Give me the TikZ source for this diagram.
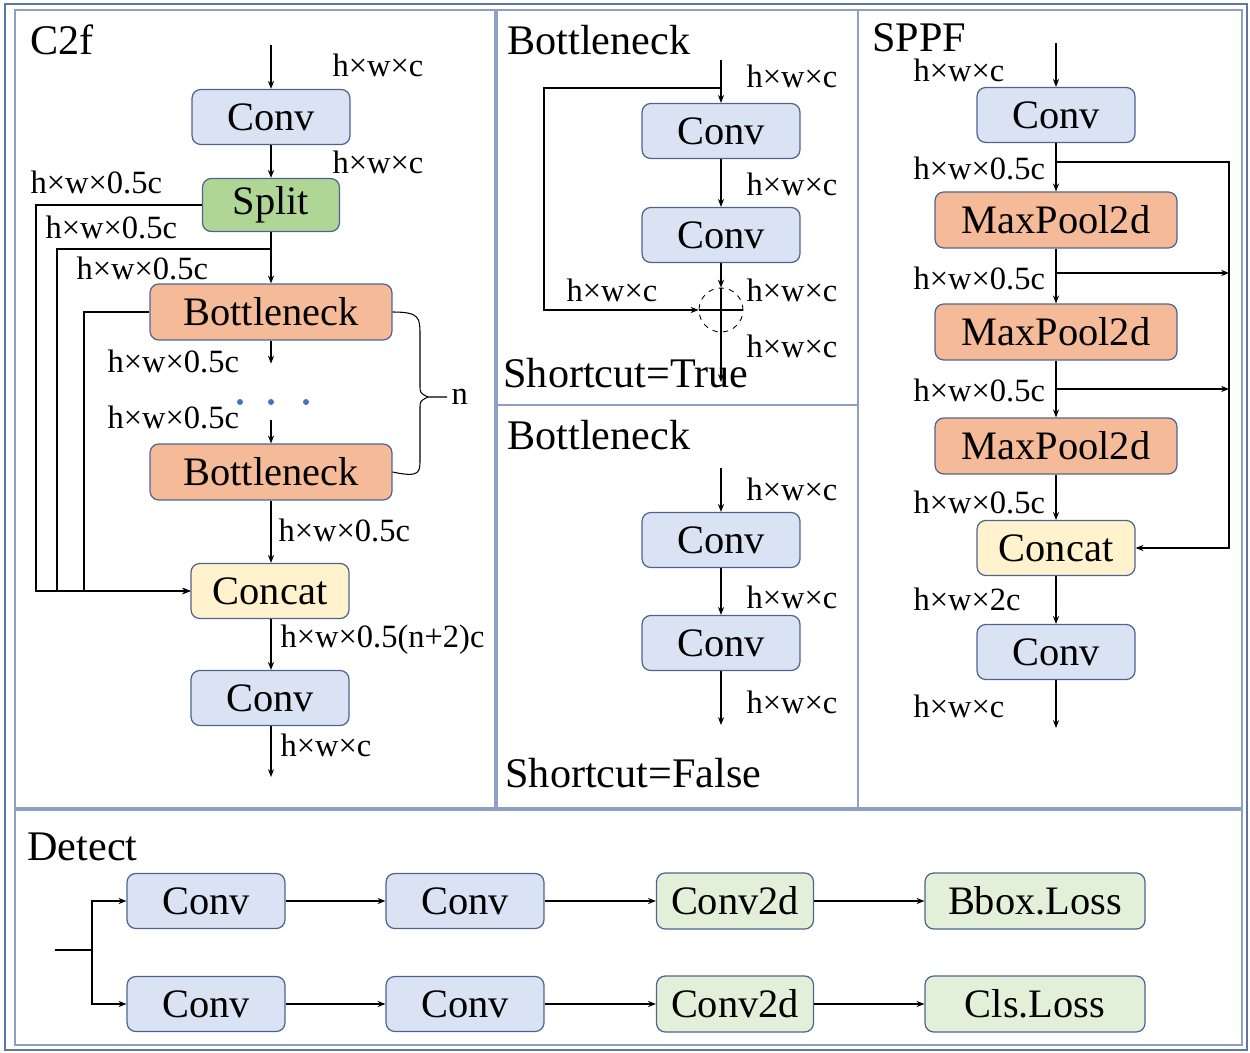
\documentclass[tikz,border=0pt]{standalone}
\usepackage{fontspec}
\setmainfont{Liberation Serif}
\usetikzlibrary{arrows.meta}

\definecolor{convblue}{RGB}{218,227,243}
\definecolor{splitgreen}{RGB}{176,214,150}
\definecolor{bneckorange}{RGB}{245,186,152}
\definecolor{catyellow}{RGB}{255,242,204}
\definecolor{headgreen}{RGB}{226,240,217}
\definecolor{boxedge}{RGB}{78,100,142}
\definecolor{framecol}{RGB}{92,118,168}
\definecolor{dotblue}{RGB}{68,114,196}

\begin{document}
\begin{tikzpicture}[x=0.02cm, y=-0.02cm, line width=0.6pt,
	>={Stealth[length=4.5pt,width=3.5pt]},
	box/.style = {draw=boxedge, line width=0.7pt, rounded corners=5pt, inner sep=0pt,
		font=\fontsize{23}{27}\selectfont},
	convbox/.style = {box, fill=convblue, minimum width=3.16cm, minimum height=1.1cm},
	splitbox/.style = {box, fill=splitgreen, minimum width=2.74cm, minimum height=1.06cm},
	bneckbox/.style = {box, fill=bneckorange, minimum width=4.84cm, minimum height=1.12cm},
	catbox/.style = {box, fill=catyellow, minimum width=3.16cm, minimum height=1.1cm},
	headbox/.style = {box, fill=headgreen, minimum width=3.14cm, minimum height=1.12cm},
	dim/.style = {anchor=west, inner sep=0pt, font=\fontsize{18.5}{22}\selectfont},
	title/.style = {anchor=west, inner sep=0pt, font=\fontsize{24}{28}\selectfont}]
	\useasboundingbox (0,0) rectangle (1250,1053);

	% frames
	\draw[framecol, line width=1pt] (5,4) rectangle (1247,1050);
	\draw[framecol!70] (15,10) rectangle (495,808);
	\draw[framecol!70] (497,10) rectangle (858,405);
	\draw[framecol!70] (497,405) rectangle (858,808);
	\draw[framecol!70] (858,10) rectangle (1242,808);
	\draw[framecol!70] (15,810) rectangle (1242,1045);

	% C2f
	\node[title] (c2ftitle) at (30,40) {C2f};
	\coordinate (c2fin) at (271,45);
	\node[convbox] (c2fconv1) at (271,117) {Conv};
	\node[splitbox] (split) at (271,205) {Split};
	\coordinate (sj) at (271,249);
	\node[bneckbox] (bneck1) at (271,312) {Bottleneck};
	\coordinate (dotsin) at (271,420);
	\node[bneckbox] (bneck2) at (271,472) {Bottleneck};
	\node[catbox] (c2fcat) at (270,591) {Concat};
	\node[convbox] (c2fconv2) at (270,698) {Conv};
	\coordinate (c2fout) at (271,777);

	\draw[->] (c2fin) -- (c2fconv1.north);
	\draw[->] (c2fconv1.south) -- (split.north);
	\draw (split.south) -- (sj);
	\draw[->] (sj) -- (bneck1.north);
	\draw[->] (split.west) -- (36,205) |- (c2fcat.west);
	\draw[->] (sj) -- (57,249) |- (c2fcat.west);
	\draw[->] (bneck1.west) -- (84,312) |- (c2fcat.west);
	\draw[->] (bneck1.south) -- ++(0,23);
	\draw[->] (dotsin) -- (bneck2.north);
	\draw[->] (bneck2.south) -- (c2fcat.north -| bneck2.south);
	\draw[->] (c2fcat.south -| c2fin) -- (c2fconv2.north -| c2fin);
	\draw[->] (c2fconv2.south -| c2fin) -- (c2fout);
	\fill[dotblue] (240,402) circle (1.7pt) (271,402) circle (1.7pt) (306,402) circle (1.7pt);
	\draw (bneck1.east) .. controls (420,312) and (420,318) .. (420,335) -- (420,385)
		.. controls (420,393) .. (428,397);
	\draw (bneck2.east) .. controls (420,478) and (420,472) .. (420,460) -- (420,409)
		.. controls (420,401) .. (428,397) -- (447,397);
	\node[dim] (nlab) at (451,397) {n};

	\node[dim] at (332,65) {h×w×c};
	\node[dim] at (332,162) {h×w×c};
	\node[dim] at (30,182) {h×w×0.5c};
	\node[dim] at (45,227) {h×w×0.5c};
	\node[dim] at (76,268) {h×w×0.5c};
	\node[dim] at (107,361) {h×w×0.5c};
	\node[dim] at (107,417) {h×w×0.5c};
	\node[dim] at (278,530) {h×w×0.5c};
	\node[dim] at (280,640) {h×w×0.5(n+2)c};
	\node[dim] at (280,745) {h×w×c};

	% Bottleneck, Shortcut=True
	\node[title] (btitle1) at (507,40) {Bottleneck};
	\coordinate (bin) at (721,60);
	\coordinate (bj) at (721,88);
	\node[convbox] (bconv1) at (721,131) {Conv};
	\node[convbox] (bconv2) at (721,235) {Conv};
	\node[draw, circle, dashed, line width=0.5pt, minimum size=0.88cm, inner sep=0pt] (plus) at (721,310) {};
	\coordinate (bout) at (721,382);

	\draw (bin) -- (bj);
	\draw[->] (bj) -- (bconv1.north);
	\draw[->] (bconv1.south) -- (bconv2.north);
	\draw[->] (bconv2.south) -- (plus.north);
	\draw[->] (plus.north) -- (bout);
	\draw[->] (bj) -- (544,88) |- (plus.west);
	\draw (plus.west) -- (plus.east);
	\node[dim] at (746,76) {h×w×c};
	\node[dim] at (746,184) {h×w×c};
	\node[dim] at (566,290) {h×w×c};
	\node[dim] at (746,290) {h×w×c};
	\node[dim] at (746,346) {h×w×c};
	\node[title] (strue) at (503,373) {Shortcut=True};

	% Bottleneck, Shortcut=False
	\node[title] (btitle2) at (507,435) {Bottleneck};
	\coordinate (fin) at (721,468);
	\node[convbox] (fconv1) at (721,540) {Conv};
	\node[convbox] (fconv2) at (721,643) {Conv};
	\coordinate (fout) at (721,725);
	\draw[->] (fin) -- (fconv1.north);
	\draw[->] (fconv1.south) -- (fconv2.north);
	\draw[->] (fconv2.south) -- (fout);
	\node[dim] at (746,489) {h×w×c};
	\node[dim] at (746,597) {h×w×c};
	\node[dim] at (746,702) {h×w×c};
	\node[title] (sfalse) at (505,773) {Shortcut=False};

	% SPPF
	\node[title] (sppftitle) at (872,38) {SPPF};
	\coordinate (sin) at (1056,43);
	\node[convbox] (sconv1) at (1056,115) {Conv};
	\coordinate (s1) at (1056,162);
	\node[bneckbox] (pool1) at (1056,220) {MaxPool2d};
	\coordinate (s2) at (1056,273);
	\node[bneckbox] (pool2) at (1056,332) {MaxPool2d};
	\coordinate (s3) at (1056,389);
	\node[bneckbox] (pool3) at (1056,446) {MaxPool2d};
	\node[catbox] (scat) at (1056,548) {Concat};
	\node[convbox] (sconv2) at (1056,652) {Conv};
	\coordinate (sout) at (1056,728);

	\draw[->] (sin) -- (sconv1.north);
	\draw[->] (sconv1.south) -- (pool1.north);
	\draw[->] (pool1.south) -- (pool2.north);
	\draw[->] (pool2.south) -- (pool3.north);
	\draw[->] (pool3.south) -- (scat.north);
	\draw[->] (scat.south) -- (sconv2.north);
	\draw[->] (sconv2.south) -- (sout);
	\draw[->] (s1) -- (1229,162) |- (scat.east);
	\draw[->] (s2) -- (1229,273);
	\draw[->] (s3) -- (1229,389);
	\node[dim] at (913,70) {h×w×c};
	\node[dim] at (913,168) {h×w×0.5c};
	\node[dim] at (913,278) {h×w×0.5c};
	\node[dim] at (913,390) {h×w×0.5c};
	\node[dim] at (913,502) {h×w×0.5c};
	\node[dim] at (913,599) {h×w×2c};
	\node[dim] at (913,706) {h×w×c};

	% Detect
	\node[title] (dtitle) at (27,847) {Detect};
	\coordinate (din) at (55,950);
	\coordinate (dj) at (92,950);
	\node[convbox] (dconv1) at (206,901) {Conv};
	\node[convbox] (dconv2) at (465,901) {Conv};
	\node[headbox] (dconv2d1) at (735,901) {Conv2d};
	\node[headbox, minimum width=4.4cm] (bbox) at (1035,901) {Bbox.Loss};
	\node[convbox] (dconv3) at (206,1004) {Conv};
	\node[convbox] (dconv4) at (465,1004) {Conv};
	\node[headbox] (dconv2d2) at (735,1004) {Conv2d};
	\node[headbox, minimum width=4.4cm] (cls) at (1035,1004) {Cls.Loss};

	\draw (din) -- (dj);
	\draw[->] (dj) |- (dconv1.west);
	\draw[->] (dj) |- (dconv3.west);
	\draw[->] (dconv1) -- (dconv2);
	\draw[->] (dconv2) -- (dconv2d1);
	\draw[->] (dconv2d1) -- (bbox);
	\draw[->] (dconv3) -- (dconv4);
	\draw[->] (dconv4) -- (dconv2d2);
	\draw[->] (dconv2d2) -- (cls);
\end{tikzpicture}
\end{document}
